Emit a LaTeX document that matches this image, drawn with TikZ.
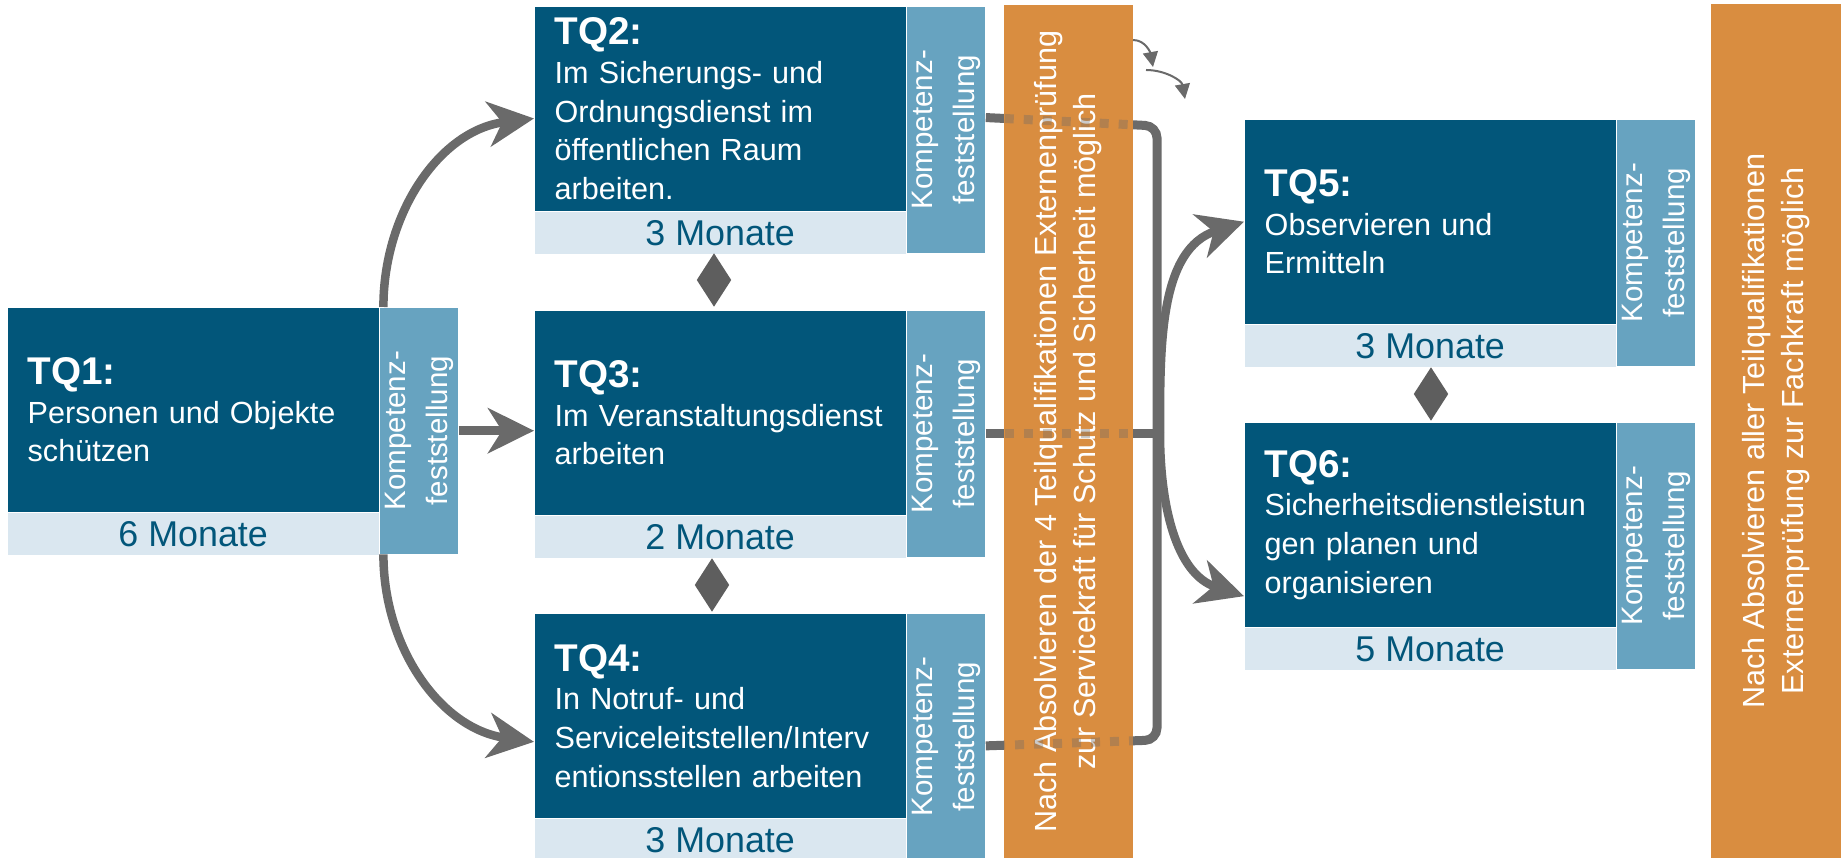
\documentclass[tikz,border=0pt]{standalone}
\usepackage{fontspec}
\setmainfont{Liberation Sans}
\usepackage{xcolor}
\usepackage{tikz}
\usetikzlibrary{arrows.meta}
\usetikzlibrary{shapes.geometric}
\definecolor{tqblau}{HTML}{02567A}
\definecolor{hellblau}{HTML}{DAE7F0}
\definecolor{kompblau}{HTML}{67A3C0}
\definecolor{extorange}{HTML}{D98D40}
\definecolor{grau}{HTML}{6A6A6A}
\definecolor{rautengrau}{HTML}{5E5E5E}
\newcommand{\titelfont}{\fontsize{11}{11}\selectfont\bfseries}
\tikzset{
    tqbox/.style={fill=tqblau, text=white, anchor=north west, minimum height=2.04cm,
        text width=3.31cm, inner xsep=0.2cm, inner ysep=0pt, align=left,
        font=\fontsize{8.7}{11}\selectfont},
    dauerbox/.style={fill=hellblau, text=tqblau, anchor=north west, minimum width=3.71cm,
        minimum height=0.42cm, inner sep=0pt, font=\fontsize{10.2}{12}\selectfont},
    kompbox/.style={fill=kompblau, anchor=north west, minimum width=0.78cm,
        minimum height=2.46cm, inner sep=0pt},
    komptext/.style={text=white, rotate=90, align=center, inner sep=0pt,
        font=\fontsize{8.4}{12}\selectfont},
    extbox/.style={fill=extorange, text=white, rotate=90, align=center, inner sep=0pt,
        minimum height=1.29cm, font=\fontsize{8.7}{11.1}\selectfont},
    raute/.style={diamond, fill=rautengrau, inner sep=0pt, minimum width=0.35cm,
        minimum height=0.54cm},
    verbinder/.style={draw=grau, line width=0.09cm},
    punktiert/.style={draw=grau, draw opacity=0.35, line width=0.09cm,
        dash pattern=on 0.09cm off 0.1cm},
    pfeil/.style={draw=grau, line width=0.085cm,
        -{Stealth[length=0.46cm, width=0.45cm, inset=0.14cm]}},
    kleinpfeil/.style={draw=grau, line width=0.02cm,
        -{Triangle[length=0.15cm, width=0.15cm]}},
    pics/tq/.style args={#1/#2/#3}{
    code = {
		\node[tqbox] (-box) at (0,0) {{\titelfont #1}\\#2};
		\node[dauerbox] (-dauer) at (-box.south west) {#3};
		\node[kompbox] (-komp) at (-box.north east) {};
	    \node[komptext] (-text) at (-komp.center) {Kompetenz-\\feststellung};
    }}
}

\begin{document}
\begin{tikzpicture}
	\useasboundingbox (0,0) rectangle (18.41,-8.58);

		\pic (tq1) at (0.07,-3.07) {tq=TQ1:/Personen und Objekte\\schützen/6 Monate};
		\pic (tq2) at (5.34,-0.06) {tq=TQ2:/Im Sicherungs- und\\Ordnungsdienst im\\öffentlichen Raum\\arbeiten./3 Monate};
		\pic (tq3) at (5.34,-3.10) {tq=TQ3:/Im Veranstaltungsdienst\\arbeiten/2 Monate};
		\pic (tq4) at (5.34,-6.13) {tq=TQ4:/{In Notruf- und\\Serviceleitstellen/Interv\\entionsstellen arbeiten}/3 Monate};
		\pic (tq5) at (12.44,-1.19) {tq=TQ5:/Observieren und\\Ermitteln/3 Monate};
		\pic (tq6) at (12.44,-4.22) {tq=TQ6:/Sicherheitsdienstleistun\\gen planen und\\organisieren/5 Monate};

		\node[raute] (r23) at (7.14,-2.80) {};
		\node[raute] (r34) at (7.12,-5.85) {};
		\node[raute] (r56) at (14.31,-3.94) {};

		% arrows
		\draw[pfeil] ([xshift=0.04cm]tq1-komp.north west) to[out=90,in=187] (tq2-box.183);
		\draw[pfeil] (tq1-komp.east) -- (tq1-komp.east -| tq3-box.west);
		\draw[pfeil] ([xshift=0.04cm]tq1-komp.south west) to[out=-90,in=172] (tq4-box.188);

		\coordinate (ecke1) at (11.57,-1.26);
		\coordinate (ecke2) at (11.57,-7.40);
		\coordinate (split) at (11.60,-4.33);
		\draw[verbinder, rounded corners=0.12cm] (tq2-komp.17) -- (ecke1) -- (ecke2) -- (tq4-komp.-13);
		\draw[verbinder] (tq3-komp.east) -- (tq3-komp.east -| ecke1);
		\draw[pfeil] (split) to[out=90,in=198] (tq5-box.west);
		\draw[pfeil] (split) to[out=-90,in=162] (tq6-box.201);

		\node[extbox, minimum width=8.53cm] (ext1) at (10.685,-4.315)
		    {Nach Absolvieren der 4 Teilqualifikationen Externenprüfung\\zur Servicekraft für Schutz und Sicherheit möglich};
		\node[extbox, minimum width=8.54cm, minimum height=1.30cm] (ext2) at (17.76,-4.31)
		    {Nach Absolvieren aller Teilqualifikationen\\Externenprüfung zur Fachkraft möglich};

		% lines through the orange box
		\begin{scope}
		\clip (ext1.north west) rectangle (ext1.south east);
		\draw[punktiert] (tq2-komp.17) -- (ecke1);
		\draw[punktiert] (tq3-komp.east) -- (tq3-komp.east -| ecke1);
		\draw[punktiert] (ecke2) -- (tq4-komp.-13);
		\end{scope}

		\coordinate (k1) at (11.33,-0.40);
		\coordinate (k2) at (11.53,-0.67);
		\coordinate (k3) at (11.46,-0.70);
		\coordinate (k4) at (11.85,-0.99);
		\draw[kleinpfeil] (k1) to[out=0,in=100] (k2);
		\draw[kleinpfeil] (k3) to[out=0,in=100] (k4);
\end{tikzpicture}
\end{document}
